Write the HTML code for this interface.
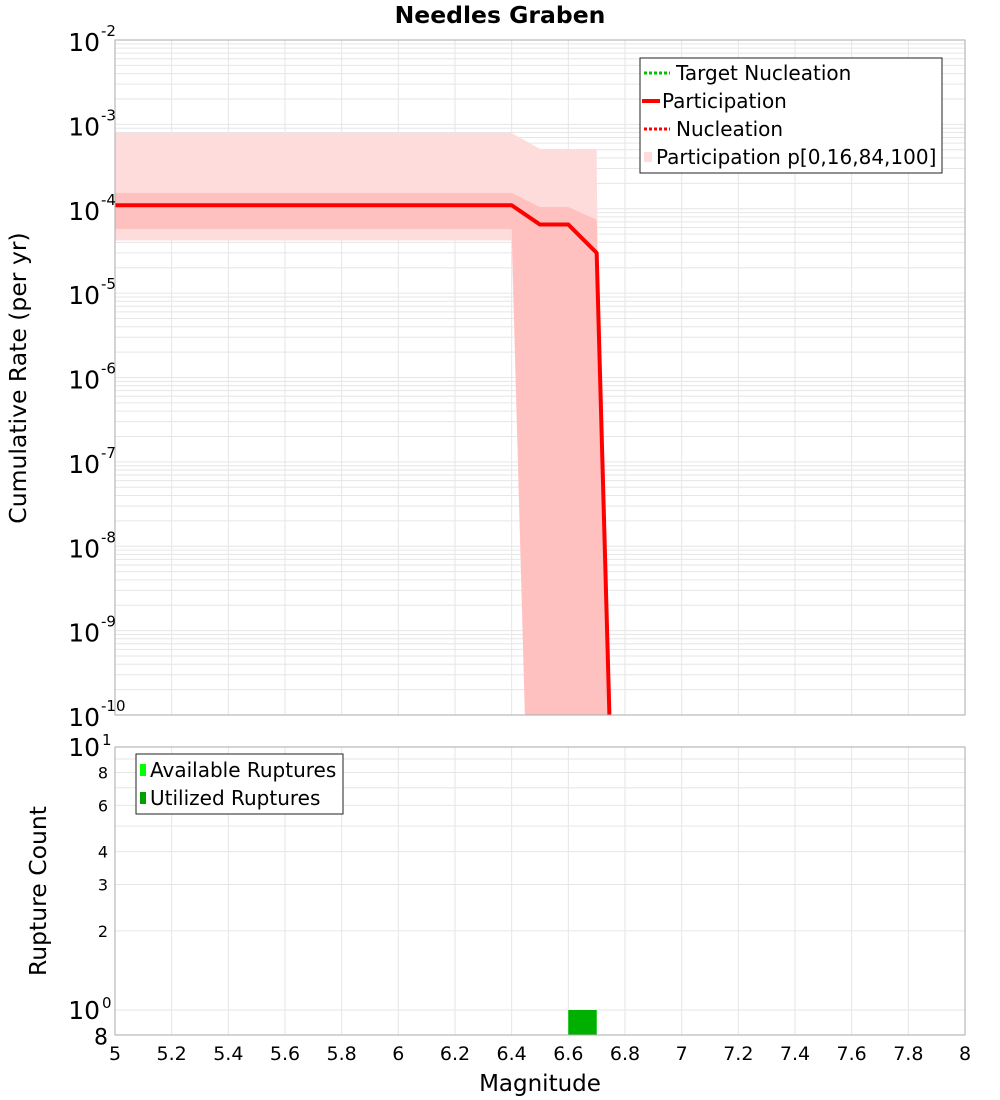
<!DOCTYPE html>
<html><head><meta charset="utf-8"><style>
html,body{margin:0;background:#fff;overflow:hidden;width:1000px;height:1100px}
svg{display:block;font-family:"DejaVu Sans","Liberation Sans",sans-serif}
</style></head><body>
<svg id="chart" width="1000" height="1100" xmlns="http://www.w3.org/2000/svg">
<defs>
<clipPath id="clipTop"><rect x="115" y="40" width="850" height="675"/></clipPath>
<clipPath id="clipBot"><rect x="115" y="747" width="850" height="288"/></clipPath>
</defs>
<text x="500" y="23" text-anchor="middle" font-size="23.5" font-weight="bold">Needles Graben</text>
<g id="gTopGrid"></g><g id="gBotGrid"></g>
<g id="gTop" clip-path="url(#clipTop)"></g>
<g id="gBot" clip-path="url(#clipBot)"></g>
<rect x="115" y="40" width="850" height="675" fill="none" stroke="#aaa"/>
<rect x="115" y="747" width="850" height="288" fill="none" stroke="#aaa"/>
<g id="gAxes"></g>
<text transform="translate(26,378) rotate(-90)" text-anchor="middle" font-size="23.5">Cumulative Rate (per yr)</text>
<text transform="translate(46,891) rotate(-90)" text-anchor="middle" font-size="23.5">Rupture Count</text>
<text x="540" y="1091" text-anchor="middle" font-size="23">Magnitude</text>
<g>
<rect x="640" y="58" width="302" height="115" fill="#fff" stroke="#222"/>
<line x1="644" y1="73" x2="670" y2="73" stroke="#00c000" stroke-width="3" stroke-dasharray="3,2"/>
<text x="676" y="80" font-size="20">Target Nucleation</text>
<line x1="642" y1="101" x2="660" y2="101" stroke="#f00" stroke-width="4"/>
<text x="662" y="108" font-size="20">Participation</text>
<line x1="644" y1="129" x2="670" y2="129" stroke="#f00" stroke-width="3" stroke-dasharray="3,2"/>
<text x="676" y="136" font-size="20">Nucleation</text>
<rect x="644" y="152" width="8" height="10" fill="#ffdcdc"/>
<text x="656" y="164" font-size="20">Participation p[0,16,84,100]</text>
</g>
<g>
<rect x="136" y="754" width="207" height="60" fill="#fff" stroke="#222"/>
<rect x="140" y="764" width="6" height="12" fill="#00ff00"/>
<text x="150" y="777" font-size="20">Available Ruptures</text>
<rect x="140" y="792" width="6" height="12" fill="#00a000"/>
<text x="150" y="805" font-size="20">Utilized Ruptures</text>
</g>
</svg>
<script>
const mags=[5.0,5.1,5.2,5.3,5.4,5.5,5.6,5.7,5.8,5.9,6.0,6.1,6.2,6.3,6.4,6.5,6.6,6.7,6.8];
const participation=[1.1e-4,1.1e-4,1.1e-4,1.1e-4,1.1e-4,1.1e-4,1.1e-4,1.1e-4,1.1e-4,1.1e-4,1.1e-4,1.1e-4,1.1e-4,1.1e-4,1.1e-4,6.5e-5,6.5e-5,3e-5,2e-17];
const p100=[7.9e-4,7.9e-4,7.9e-4,7.9e-4,7.9e-4,7.9e-4,7.9e-4,7.9e-4,7.9e-4,7.9e-4,7.9e-4,7.9e-4,7.9e-4,7.9e-4,7.9e-4,5.1e-4,5.1e-4,5.1e-4,1e-200];
const p84=[1.54e-4,1.54e-4,1.54e-4,1.54e-4,1.54e-4,1.54e-4,1.54e-4,1.54e-4,1.54e-4,1.54e-4,1.54e-4,1.54e-4,1.54e-4,1.54e-4,1.54e-4,1.05e-4,1.05e-4,7.4e-5,2e-17];
const p16=[5.75e-5,5.75e-5,5.75e-5,5.75e-5,5.75e-5,5.75e-5,5.75e-5,5.75e-5,5.75e-5,5.75e-5,5.75e-5,5.75e-5,5.75e-5,5.75e-5,5.75e-5,3e-17,3e-17,3e-17,3e-17];
const p0=[4.2e-5,4.2e-5,4.2e-5,4.2e-5,4.2e-5,4.2e-5,4.2e-5,4.2e-5,4.2e-5,4.2e-5,4.2e-5,4.2e-5,4.2e-5,4.2e-5,4.2e-5,3e-17,3e-17,3e-17,3e-17];
const binStarts=[6.6];
const availableCounts=[1];
const utilizedCounts=[1];
const xTicks=[5,5.2,5.4,5.6,5.8,6,6.2,6.4,6.6,6.8,7,7.2,7.4,7.6,7.8,8];
const xTickLabels=["5","5.2","5.4","5.6","5.8","6","6.2","6.4","6.6","6.8","7","7.2","7.4","7.6","7.8","8"];
const topDecades=[-2,-3,-4,-5,-6,-7,-8,-9,-10];
const botTicks=[0.8,2,3,4,6,8];

const NS="http://www.w3.org/2000/svg";
const X=m=>115+(m-5)/3*850;
const YT=v=>40+(-2-Math.max(Math.log10(v),-40))*84.375;
const YB=v=>1010-Math.log10(v)*263;
function mk(p,tag,a){const e=document.createElementNS(NS,tag);for(const k in a)e.setAttribute(k,a[k]);p.appendChild(e);return e;}
const gTG=document.getElementById('gTopGrid'),gBG=document.getElementById('gBotGrid'),gT=document.getElementById('gTop'),gB=document.getElementById('gBot'),gA=document.getElementById('gAxes');
for(let d=-10;d<-2;d++){for(let k=1;k<10;k++){const y=YT(k*Math.pow(10,d));const l=mk(gTG,'line',{x1:115,x2:965,y1:y,y2:y,stroke:'#e6e6e6'});

}}
for(let k=1;k<10;k++){const y=YB(k);const l=mk(gBG,'line',{x1:115,x2:965,y1:y,y2:y,stroke:'#e6e6e6'});

}
xTicks.forEach(t=>{const x=X(t);const a=mk(gTG,'line',{x1:x,x2:x,y1:40,y2:715,stroke:'#e6e6e6'});


const b=mk(gBG,'line',{x1:x,x2:x,y1:747,y2:1035,stroke:'#e6e6e6'});

});
function band(up,lo,fill,name){let pts=mags.map((m,i)=>X(m)+','+YT(up[i]));for(let i=mags.length-1;i>=0;i--)pts.push(X(mags[i])+','+YT(lo[i]));
const p=mk(gT,'polygon',{points:pts.join(' '),fill:fill});

}
band(p100,p0,'#ffdcdc','band-p0-p100');
band(p84,p16,'#ffc0c0','band-p16-p84');
const line=mk(gT,'polyline',{points:mags.map((m,i)=>X(m)+','+YT(participation[i])).join(' '),fill:'none',stroke:'#f00','stroke-width':4,'stroke-linejoin':'round'});


binStarts.forEach((m,i)=>{const a=mk(gB,'rect',{x:X(m),y:YB(availableCounts[i]),width:X(m+0.1)-X(m),height:1040-YB(availableCounts[i]),fill:'#00ff00'});


const u=mk(gB,'rect',{x:X(m),y:YB(utilizedCounts[i]),width:X(m+0.1)-X(m),height:1040-YB(utilizedCounts[i]),fill:'#00b000'});

});
xTicks.forEach((t,i)=>{const tx=mk(gA,'text',{x:X(t),y:1060,'text-anchor':'middle','font-size':19});tx.textContent=xTickLabels[i];

});
topDecades.forEach(d=>{const y=YT(Math.pow(10,d));const t=mk(gA,'text',{x:100,y:y+11,'text-anchor':'end','font-size':25});t.textContent='10';


const s=mk(gA,'text',{x:101,y:y-4,'font-size':15});s.textContent=String(d);

});
[[10,'1'],[1,'0']].forEach(([v,e])=>{const y=YB(v);const t=mk(gA,'text',{x:100,y:y+9,'text-anchor':'end','font-size':25});t.textContent='10';


const s=mk(gA,'text',{x:102,y:y-2,'font-size':15});s.textContent=e;

});
botTicks.forEach(v=>{const y=YB(v);const big=v<1;const t=mk(gA,'text',{x:108,y:y+(big?9:6),'text-anchor':'end','font-size':big?22:16});t.textContent=String(big?Math.round(v*10):v);

});
</script>
</body></html>
